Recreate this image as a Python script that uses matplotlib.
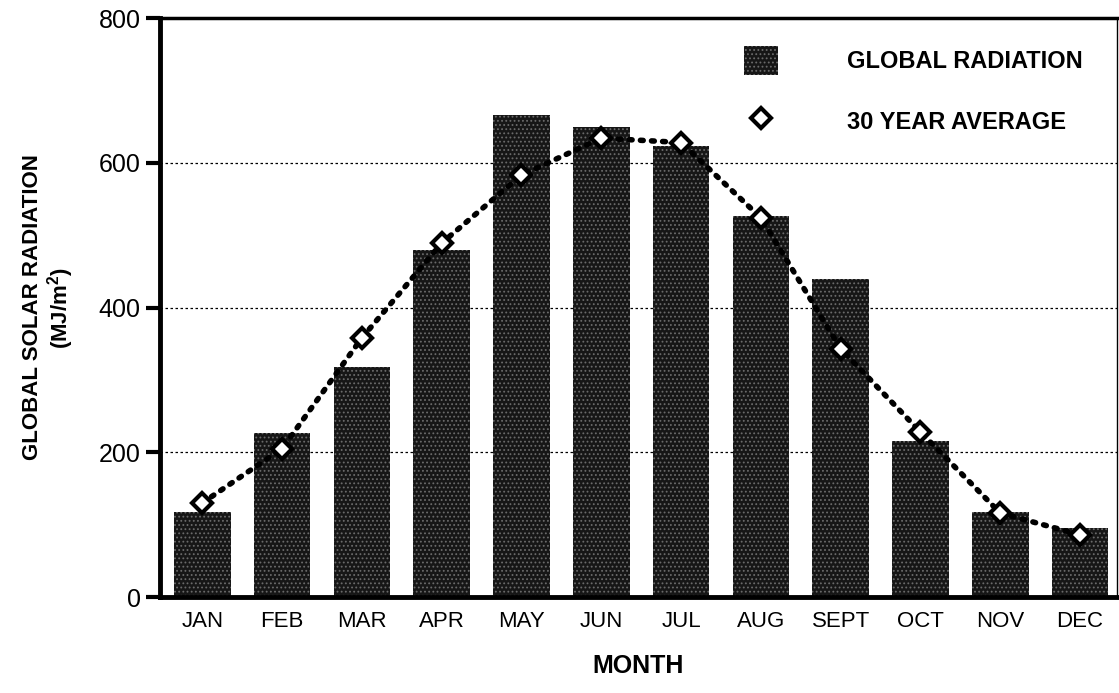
import matplotlib
matplotlib.use("Agg")
import matplotlib.pyplot as plt
import numpy as np

months = ["JAN", "FEB", "MAR", "APR", "MAY", "JUN", "JUL", "AUG", "SEPT", "OCT", "NOV", "DEC"]
global_radiation = [118, 226, 318, 479, 666, 649, 623, 527, 439, 216, 118, 95]
avg_30yr = [130, 205, 358, 489, 583, 634, 628, 524, 343, 228, 116, 86]
yticks = [0, 200, 400, 600, 800]

plt.rcParams["font.family"] = ["Liberation Sans", "DejaVu Sans"]
plt.rcParams["mathtext.fontset"] = "custom"
plt.rcParams["mathtext.rm"] = "Liberation Sans:bold"
plt.rcParams["mathtext.bf"] = "Liberation Sans:bold"
plt.rcParams["hatch.color"] = "#6a6a6a"
plt.rcParams["hatch.linewidth"] = 0.8

fig = plt.figure(figsize=(11.19, 6.93), dpi=100)
ax = fig.add_axes([0.143, 0.1385, 0.855, 0.8355])

x = np.arange(len(months))
# no edgecolor given -> hatch uses rcParams colour (stipple look)
bars = ax.bar(x, global_radiation, width=0.71, color="#161616", hatch="....",
              zorder=2, label="GLOBAL RADIATION")
line, = ax.plot(x, avg_30yr, color="black", lw=4, ls=(0, (0.5, 1.5)),
                dash_capstyle="round", marker="D", ms=10.5, mfc="white", mec="black",
                mew=3, zorder=3, label="30 YEAR AVERAGE")

ax.set_xlim(-0.53, 11.46)
ax.set_ylim(0, 800)
ax.set_yticks(yticks)
ax.set_xticks(x)
ax.set_xticklabels(months)
for y in yticks[1:-1]:
    ax.axhline(y, color="black", lw=0.9, ls=(0, (2, 2)), zorder=1)

for s in ["left", "bottom"]:
    ax.spines[s].set_linewidth(3.5)
ax.spines["top"].set_linewidth(2.5)
ax.spines["right"].set_linewidth(1)
ax.tick_params(axis="y", length=10, width=3, labelsize=18, pad=4)
ax.tick_params(axis="x", length=0, labelsize=16, pad=10)

ax.set_ylabel("GLOBAL SOLAR RADIATION\n(MJ/m$^{2}$)", fontsize=16, fontweight="bold",
              labelpad=16, linespacing=1.1)
ax.set_xlabel("MONTH", fontsize=18, fontweight="bold", labelpad=16)

leg = ax.legend(handles=[bars, line], loc="upper left", bbox_to_anchor=(0.588, 0.988),
                frameon=False, prop={"size": 17, "weight": "bold"},
                handlelength=1.45, handleheight=1.5, handletextpad=2.9, labelspacing=1.35)
leg.legend_handles[1].set_linestyle("none")

fig.savefig("out.png", dpi=100)
